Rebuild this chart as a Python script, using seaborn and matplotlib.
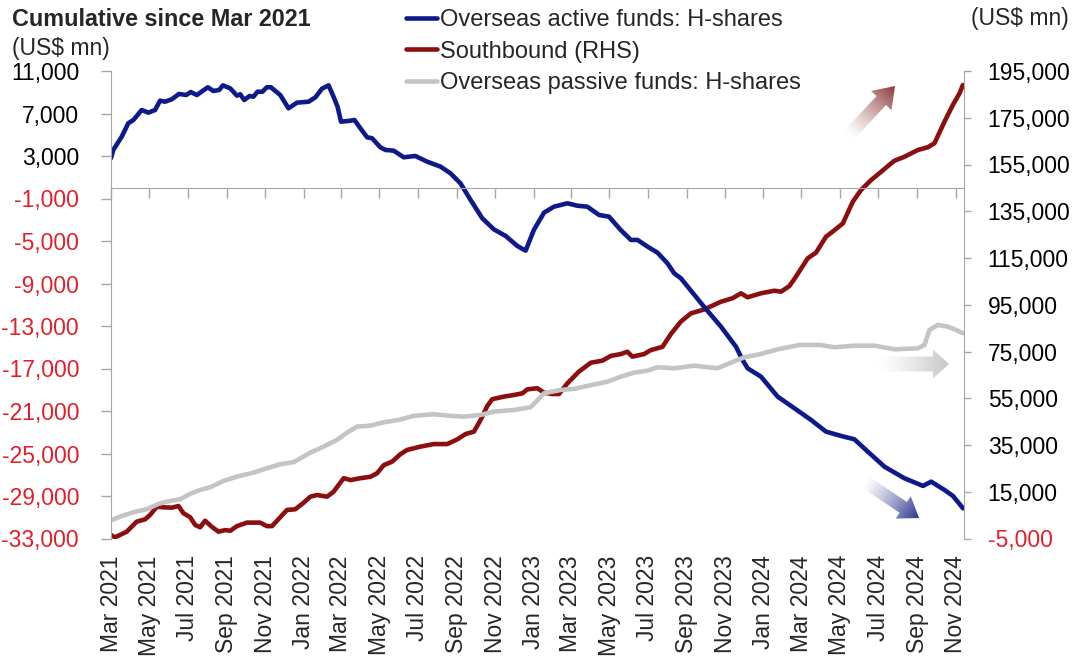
import numpy as np
import pandas as pd
import matplotlib
matplotlib.use("Agg")
import matplotlib.pyplot as plt
import seaborn as sns
from matplotlib.patches import FancyArrow
from matplotlib.lines import Line2D

# ---------------- data (months since 1 Mar 2021, US$ mn) ----------------
active_t = [0.00, 0.12, 0.56, 0.90, 1.17, 1.60, 1.95, 2.30, 2.56, 2.82, 3.17, 3.55, 3.92, 4.16,
            4.48, 5.05, 5.34, 5.64, 5.84, 6.22, 6.57, 6.74, 6.95, 7.23, 7.43, 7.64, 7.90, 8.13,
            8.34, 8.83, 9.26, 9.70, 10.31, 10.66, 11.01, 11.35, 11.61, 11.82, 12.00, 12.40,
            12.70, 13.01, 13.36, 13.62, 14.05, 14.32, 14.75, 15.27, 15.88, 16.49, 17.19, 17.71,
            18.23, 18.76, 19.37, 19.97, 20.59, 21.20, 21.63, 22.06, 22.59, 23.11, 23.81, 24.33,
            24.85, 25.46, 25.98, 26.59, 27.12, 27.47, 27.99, 28.51, 29.03, 29.38, 29.73, 30.86,
            31.82, 32.60, 32.95, 33.21, 33.91, 34.78, 35.65, 36.52, 37.30, 38.09, 38.78, 39.48,
            40.35, 41.39, 42.36, 42.79, 43.48, 43.92, 44.45]
active_v = [2800, 3570, 4820, 6080, 6390, 7330, 7080, 7330, 8210, 8110, 8340, 8840, 8740, 9020,
            8740, 9470, 9120, 9210, 9650, 9370, 8680, 8810, 8270, 8650, 8580, 9050, 9050, 9470,
            9470, 8740, 7490, 8020, 8110, 8520, 9340, 9650, 8580, 7640, 6230, 6300,
            6390, 5610, 4760, 4670, 3820, 3570, 3500, 2880, 3000, 2470, 2000, 1370,
            430, -1140, -2860, -3900, -4530, -5470, -5910, -3960, -2330, -1770, -1450, -1680,
            -1770, -2550, -2710, -3960, -4900, -4900, -5530, -6100, -7100, -8040, -8510, -11020,
            -13060, -14940, -16200, -16980, -17770, -19650, -20740, -21840, -22940, -23350, -23660, -24820,
            -26240, -27330, -28050, -27650, -28430, -28990, -30160]

south_t = [0.00, 0.21, 0.82, 1.34, 1.78, 2.04, 2.39, 2.73, 3.17, 3.52, 3.78, 4.13, 4.39, 4.65,
           4.91, 5.26, 5.61, 5.96, 6.22, 6.57, 7.09, 7.78, 8.13, 8.40, 8.83, 9.18, 9.61, 10.05,
           10.40, 10.75, 11.27, 11.61, 12.14, 12.49, 13.01, 13.53, 13.88, 14.23, 14.67, 15.10,
           15.45, 16.14, 16.84, 17.54, 18.06, 18.50, 18.93, 19.28, 19.63, 19.89, 20.50, 21.02,
           21.46, 21.72, 22.24, 22.59, 23.03, 23.37, 23.81, 24.41, 25.03, 25.64, 26.07, 26.59,
           26.94, 27.20, 27.81, 28.16, 28.77, 29.21, 29.73, 30.25, 30.95, 31.82, 32.43, 32.86,
           33.21, 33.91, 34.60, 34.96, 35.39, 35.65, 36.35, 36.78, 37.30, 37.65, 38.18, 38.70,
           39.13, 39.66, 40.18, 40.70, 40.87, 41.39, 42.09, 42.62, 42.96, 43.48, 43.92, 44.27, 44.44]
south_v = [-3500, -4500, -2100, 2200, 3200, 5100, 8600, 8350, 8200, 8900, 5800, 4100, 800, -200,
           2600, 0, -2100, -1400, -1700, 300, 1800, 1800, 300, 300, 4100, 7200, 7500, 10300,
           12900, 13600, 12900, 15000, 20800, 20000, 20800, 21400, 22900, 26400, 27900, 31100,
           32900, 34300, 35400, 35400, 37400, 39700, 40700, 45700, 51700, 54600, 55700, 56400,
           57100, 58800, 59300, 57400, 56800, 56800, 61400, 66400, 70200, 71100, 73100, 73900,
           74900, 72800, 73900, 75600, 77000, 82500, 87800, 91300, 93000, 96300, 97800, 99900,
           98200, 99900, 101000, 100600, 103000, 106000, 114900, 117300, 124100, 126300, 129800, 139100,
           144100, 148400, 151900, 155500, 156600, 158300, 161200, 162400, 164100, 173300, 180500, 185500, 189000]

passive_t = [0.00, 0.47, 1.17, 1.87, 2.47, 2.91, 3.61, 4.13, 4.65, 5.17, 5.87, 6.57, 7.43, 8.13,
             8.83, 9.52, 10.40, 11.09, 11.79, 12.31, 12.84, 13.53, 14.23, 15.01, 15.79, 16.84,
             17.71, 18.41, 19.28, 19.97, 21.02, 21.89, 22.59, 23.46, 24.15, 24.85, 25.90, 26.59,
             27.29, 27.99, 28.51, 29.38, 30.42, 31.64, 32.34, 33.04, 33.91, 34.78, 35.95, 36.99,
             37.74, 38.78, 39.83, 40.87, 42.09, 42.44, 42.70, 43.13, 43.65, 44.00, 44.44]
passive_v = [-31300, -30940, -30530, -30240, -29750, -29530, -29300, -28800, -28430, -28180, -27580,
             -27180, -26800, -26390, -26010, -25820, -24920, -24350, -23720, -23040, -22470, -22380,
             -22060, -21840, -21460, -21300, -21460, -21530, -21370, -21060, -20900, -20650, -19330,
             -19020, -18920, -18640, -18240, -17770, -17390, -17200, -16880, -16980, -16730, -16980,
             -16450, -15940, -15630, -15190, -14780, -14780, -15000, -14850, -14850, -15190, -15100,
             -14780, -13370, -12900, -13060, -13300, -13680]

series_names = ["Overseas active funds: H-shares", "Southbound (RHS)",
                "Overseas passive funds: H-shares"]
left_ticks = list(range(-33000, 11001, 4000))
right_ticks = list(range(-5000, 195001, 20000))
start_date = pd.Timestamp("2021-03-01")
end_months = 44.5
month_ticks = pd.date_range("2021-03-01", "2024-11-01", freq="2MS")
month_labels = [d.strftime("%b %Y") for d in month_ticks]

# ---------------- style ----------------
BLUE = "#0f1a8a"
RED = "#8c0f0f"
GREY = "#c4c4c4"
AXC = "#a6a6a6"
NEG = "#e0202a"
FS = 16.5

sns.set_style("white")
plt.rcParams["font.family"] = ["Liberation Sans", "DejaVu Sans"]


def to_dates(t):
    return start_date + pd.to_timedelta(np.asarray(t) * 30.4375, unit="D")


fig = plt.figure(figsize=(10.8, 6.62), dpi=100)
W, H = 1080, 662
ax = fig.add_axes([111 / W, 1 - 538.5 / H, (964 - 111) / W, (538.5 - 71) / H])
axR = ax.twinx()
ax.set_zorder(2)
axR.set_zorder(1)
ax.patch.set_visible(False)

df_a = pd.DataFrame({"date": to_dates(active_t), "value": active_v})
df_s = pd.DataFrame({"date": to_dates(south_t), "value": south_v})
df_p = pd.DataFrame({"date": to_dates(passive_t), "value": passive_v})

sns.lineplot(data=df_s, x="date", y="value", ax=axR, color=RED, lw=3.3, legend=False)
sns.lineplot(data=df_a, x="date", y="value", ax=ax, color=BLUE, lw=3.3, legend=False)
sns.lineplot(data=df_p, x="date", y="value", ax=ax, color=GREY, lw=3.3, legend=False)
for a in (ax, axR):
    a.set_xlabel("")
    a.set_ylabel("")
    for ln in a.get_lines():
        ln.set_solid_joinstyle("round")
        ln.set_solid_capstyle("round")

ax.set_xlim(start_date, start_date + pd.Timedelta(days=end_months * 30.4375))
ax.set_ylim(left_ticks[0], left_ticks[-1])
axR.set_ylim(right_ticks[0], right_ticks[-1])

ax.set_yticks(left_ticks, [f"{v:,}" for v in left_ticks])
axR.set_yticks(right_ticks, [f"{v:,}" for v in right_ticks])
for lab, v in zip(ax.get_yticklabels(), left_ticks):
    lab.set_color(NEG if v < 0 else "black")
for lab, v in zip(axR.get_yticklabels(), right_ticks):
    lab.set_color(NEG if v < 0 else "black")
ax.tick_params(axis="y", left=True, length=7, width=1, color=AXC, pad=16, labelsize=FS)
axR.tick_params(axis="y", right=True, length=5, width=1, color=AXC, pad=12, labelsize=FS)

ax.set_xticks(month_ticks, month_labels)
ax.tick_params(axis="x", bottom=True, length=7, width=1, color=AXC, direction="out",
               labelbottom=False)
axR.xaxis.set_visible(True)
axR.tick_params(axis="x", bottom=True, length=0, labelbottom=True, labelrotation=90,
                labelsize=FS, pad=12)

for s in ("top", "right"):
    ax.spines[s].set_visible(False)
ax.spines["left"].set_color(AXC)
ax.spines["bottom"].set_position(("data", 0))
ax.spines["bottom"].set_color(AXC)
for s in ("top", "left", "bottom"):
    axR.spines[s].set_visible(False)
axR.spines["right"].set_color(AXC)
ax.grid(False)
axR.grid(False)

# titles
fig.text(12 / W, 1 - 20 / H, "Cumulative since Mar 2021", weight="bold", size=16.8,
         ha="left", va="center")
fig.text(12 / W, 1 - 49 / H, "(US$ mn)", size=FS, ha="left", va="center")
fig.text(1069 / W, 1 - 19 / H, "(US$ mn)", size=FS, ha="right", va="center")

# legend
handles = [Line2D([], [], color=c, lw=3.3) for c in (BLUE, RED, GREY)]
fig.legend(handles, series_names, loc="upper left", bbox_to_anchor=(406 / W, 1 - 9 / H),
           frameon=False, fontsize=17, handlelength=1.3, handletextpad=0.15,
           labelspacing=0.41, borderpad=0, borderaxespad=0)

# gradient arrows (decoration, figure pixel space)
ov = fig.add_axes([0, 0, 1, 1])
ov.set_zorder(5)
ov.axis("off")


def grad_arrow(x0, y0, x1, y1, width, head_w, head_l, rgb):
    dx, dy = x1 - x0, y1 - y0
    patch = FancyArrow(x0, y0, dx, dy, width=width, head_width=head_w, head_length=head_l,
                       length_includes_head=True, fc="none", ec="none")
    ov.add_patch(patch)
    xmin, xmax = min(x0, x1) - head_w, max(x0, x1) + head_w
    ymin, ymax = min(y0, y1) - head_w, max(y0, y1) + head_w
    n = 240
    X, Y = np.meshgrid(np.linspace(xmin, xmax, n), np.linspace(ymin, ymax, n))
    t = np.clip(((X - x0) * dx + (Y - y0) * dy) / (dx * dx + dy * dy), 0, 1)
    img = np.zeros((n, n, 4))
    img[..., :3] = rgb
    img[..., 3] = t ** 1.3
    im = ov.imshow(img, extent=(xmin, xmax, ymax, ymin), origin="upper", aspect="auto",
                   interpolation="bilinear")
    im.set_clip_path(patch)


grad_arrow(848, 136, 895, 86, 13, 28, 20, (0.55, 0.22, 0.22))
grad_arrow(876, 364, 949, 364, 15, 29, 16, (0.78, 0.78, 0.78))
grad_arrow(864, 481, 919, 518, 13, 27, 19, (0.17, 0.21, 0.55))
ov.set_xlim(0, W)
ov.set_ylim(H, 0)

fig.savefig("out.png", dpi=100)
